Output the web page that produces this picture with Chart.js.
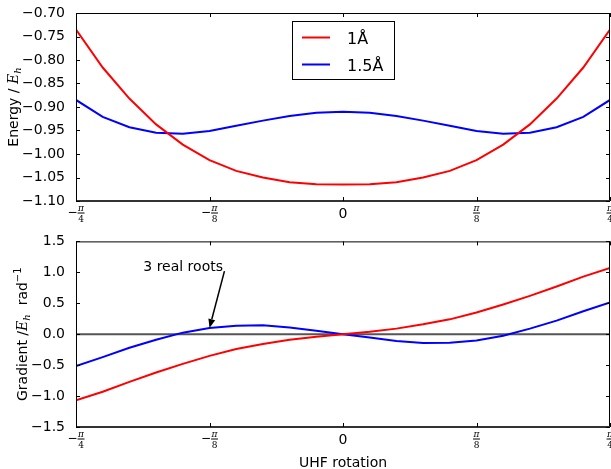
<!DOCTYPE html>
<html>
<head>
<meta charset="utf-8">
<script src="https://cdn.jsdelivr.net/npm/chart.js@4.4.1/dist/chart.umd.min.js"></script>
<style>
  html, body { margin: 0; padding: 0; background: #fff; }
  #wrap { position: relative; width: 611px; height: 469px; }
  canvas { position: absolute; left: 0; }
</style>
</head>
<body>
<div id="wrap">
  <canvas id="energy" width="611" height="230" style="top:0"></canvas>
  <canvas id="gradient" width="611" height="239" style="top:230px"></canvas>
</div>
<script>
// UHF rotation angle, in units of pi
const rotation = [-0.25, -0.225, -0.2, -0.175, -0.15, -0.125, -0.1, -0.075, -0.05, -0.025, 0,
  0.025, 0.05, 0.075, 0.1, 0.125, 0.15, 0.175, 0.2, 0.225, 0.25];
const seriesNames = ['1Å', '1.5Å'];
const seriesColors = ['#ff0000', '#0000ff'];

const energy1 = [-0.735, -0.816, -0.882, -0.937, -0.980, -1.013, -1.036, -1.050, -1.060, -1.0645, -1.065,
  -1.0645, -1.060, -1.050, -1.036, -1.013, -0.980, -0.937, -0.882, -0.816, -0.735];
const energy15 = [-0.885, -0.921, -0.943, -0.955, -0.957, -0.951, -0.940, -0.929, -0.919, -0.912, -0.910,
  -0.912, -0.919, -0.929, -0.940, -0.951, -0.957, -0.955, -0.943, -0.921, -0.885];

const grad1 = [-1.07, -0.93, -0.77, -0.62, -0.48, -0.35, -0.24, -0.16, -0.09, -0.04, 0,
  0.04, 0.09, 0.16, 0.24, 0.35, 0.48, 0.62, 0.77, 0.93, 1.07];
const grad15 = [-0.515, -0.37, -0.22, -0.09, 0.025, 0.10, 0.138, 0.143, 0.11, 0.055, 0,
  -0.055, -0.11, -0.143, -0.138, -0.10, -0.025, 0.09, 0.22, 0.37, 0.515];

const xTicks = [-0.25, -0.125, 0, 0.125, 0.25];
const xTickLabels = ['−π/4', '−π/8', '0', 'π/8', 'π/4'];
const energyTicks = [-1.10, -1.05, -1.00, -0.95, -0.90, -0.85, -0.80, -0.75, -0.70];
const gradTicks = [-1.5, -1.0, -0.5, 0.0, 0.5, 1.0, 1.5];

// annotation on the gradient plot
const noteText = '3 real roots';
const noteTextAt = [-0.187, 1.02];
const noteTail = [-0.111, 1.02];
const noteTip = [-0.125, 0.10];

const SANS = '"DejaVu Sans", sans-serif';
const SERIF = '"DejaVu Serif", serif';

function points(ys) {
  return rotation.map((x, i) => ({ x: x, y: ys[i] }));
}

function richWidth(ctx, parts) {
  let w = 0;
  parts.forEach(p => { ctx.font = p.font; w += ctx.measureText(p.t).width; });
  return w;
}

// vertical axis title made of several font runs
function drawVerticalTitle(ctx, parts, cx, cy) {
  ctx.save();
  ctx.translate(cx, cy);
  ctx.rotate(-Math.PI / 2);
  ctx.fillStyle = '#000';
  ctx.textAlign = 'left';
  ctx.textBaseline = 'alphabetic';
  let x = -richWidth(ctx, parts) / 2;
  parts.forEach(p => {
    ctx.font = p.font;
    ctx.fillText(p.t, x, 5 + (p.dy || 0));
    x += ctx.measureText(p.t).width;
  });
  ctx.restore();
}

function drawTickLabel(ctx, label, x, y) {
  ctx.fillStyle = '#000';
  if (label.indexOf('/') < 0) {
    ctx.font = '14px ' + SANS;
    ctx.textAlign = 'center';
    ctx.textBaseline = 'middle';
    ctx.fillText(label, x, y + 1);
    return;
  }
  const neg = label.charAt(0) === '−';
  const parts = label.replace('−', '').split('/');
  ctx.font = 'italic 9px ' + SERIF;
  const nw = ctx.measureText(parts[0]).width;
  ctx.font = '9px ' + SERIF;
  const dw = ctx.measureText(parts[1]).width;
  const fw = Math.max(nw, dw) + 1;
  ctx.font = '12px ' + SANS;
  const mw = neg ? ctx.measureText('−').width : 0;
  const x0 = x - (mw + fw) / 2;
  if (neg) {
    ctx.textAlign = 'left';
    ctx.textBaseline = 'middle';
    ctx.fillText('−', x0, y);
  }
  const fx = x0 + mw + fw / 2;
  ctx.textAlign = 'center';
  ctx.font = 'italic 9px ' + SERIF;
  ctx.textBaseline = 'alphabetic';
  ctx.fillText(parts[0], fx, y - 2.5);
  ctx.font = '9px ' + SERIF;
  ctx.textBaseline = 'top';
  ctx.fillText(parts[1], fx, y + 2);
  ctx.fillRect(fx - fw / 2, y - 0.5, fw, 1);
}

const framePlugin = {
  id: 'mplFrame',
  afterDraw(chart, args, opts) {
    const ctx = chart.ctx;
    const a = chart.chartArea;
    const xs = chart.scales.x, ys = chart.scales.y;
    ctx.save();
    // spines
    ctx.strokeStyle = '#000';
    ctx.lineWidth = 1;
    ctx.beginPath();
    ctx.moveTo(a.left + 0.5, a.bottom);
    ctx.lineTo(a.left + 0.5, a.top + 0.5);
    ctx.lineTo(a.right - 0.5, a.top + 0.5);
    ctx.lineTo(a.right - 0.5, a.bottom);
    ctx.stroke();
    ctx.strokeStyle = '#333';
    ctx.lineWidth = 2;
    ctx.beginPath();
    ctx.moveTo(a.left, a.bottom);
    ctx.lineTo(a.right, a.bottom);
    ctx.stroke();
    // inward ticks
    ctx.strokeStyle = '#000';
    ctx.lineWidth = 1;
    ctx.beginPath();
    xTicks.forEach(v => {
      const px = Math.round(xs.getPixelForValue(v)) + 0.5;
      ctx.moveTo(px, a.bottom); ctx.lineTo(px, a.bottom - 4);
      ctx.moveTo(px, a.top); ctx.lineTo(px, a.top + 4);
    });
    opts.yTicks.forEach(v => {
      const py = Math.round(ys.getPixelForValue(v)) + 0.5;
      ctx.moveTo(a.left, py); ctx.lineTo(a.left + 4, py);
      ctx.moveTo(a.right, py); ctx.lineTo(a.right - 4, py);
    });
    ctx.stroke();
    // x tick labels
    xTicks.forEach((v, i) => drawTickLabel(ctx, xTickLabels[i], xs.getPixelForValue(v), a.bottom + 12));
    // y title
    drawVerticalTitle(ctx, opts.title, opts.titleX, (a.top + a.bottom) / 2);
    ctx.restore();
  }
};

const legendPlugin = {
  id: 'boxLegend',
  afterDraw(chart) {
    const ctx = chart.ctx;
    ctx.save();
    ctx.fillStyle = '#fff';
    ctx.fillRect(292.5, 21.5, 102, 58);
    ctx.strokeStyle = '#000';
    ctx.lineWidth = 1;
    ctx.strokeRect(292.5, 21.5, 102, 58);
    seriesNames.forEach((name, i) => {
      const y = 37.5 + i * 27;
      ctx.strokeStyle = seriesColors[i];
      ctx.lineWidth = 2;
      ctx.beginPath();
      ctx.moveTo(302, y);
      ctx.lineTo(330, y);
      ctx.stroke();
      ctx.fillStyle = '#000';
      ctx.font = '16px ' + SANS;
      ctx.textAlign = 'left';
      ctx.textBaseline = 'alphabetic';
      ctx.fillText(name, 347, y + 6);
    });
    ctx.restore();
  }
};

const zeroLinePlugin = {
  id: 'zeroLine',
  beforeDatasetsDraw(chart) {
    const ctx = chart.ctx;
    const a = chart.chartArea;
    const py = chart.scales.y.getPixelForValue(0);
    ctx.save();
    ctx.strokeStyle = '#555';
    ctx.lineWidth = 2;
    ctx.beginPath();
    ctx.moveTo(a.left, py);
    ctx.lineTo(a.right, py);
    ctx.stroke();
    ctx.restore();
  }
};

const notePlugin = {
  id: 'note',
  afterDraw(chart) {
    const ctx = chart.ctx;
    const xs = chart.scales.x, ys = chart.scales.y;
    const tx = xs.getPixelForValue(noteTextAt[0]), ty = ys.getPixelForValue(noteTextAt[1]);
    const x0 = xs.getPixelForValue(noteTail[0]), y0 = ys.getPixelForValue(noteTail[1]);
    const x1 = xs.getPixelForValue(noteTip[0]), y1 = ys.getPixelForValue(noteTip[1]);
    ctx.save();
    ctx.fillStyle = '#000';
    ctx.font = '14px ' + SANS;
    ctx.textAlign = 'left';
    ctx.textBaseline = 'alphabetic';
    ctx.fillText(noteText, tx, ty);
    const ang = Math.atan2(y1 - y0, x1 - x0);
    const hl = 9, hw = 3.5;
    const bx = x1 - hl * Math.cos(ang), by = y1 - hl * Math.sin(ang);
    ctx.strokeStyle = '#000';
    ctx.lineWidth = 1.5;
    ctx.beginPath();
    ctx.moveTo(x0, y0);
    ctx.lineTo(bx, by);
    ctx.stroke();
    ctx.beginPath();
    ctx.moveTo(x1, y1);
    ctx.lineTo(bx + hw * Math.sin(ang), by - hw * Math.cos(ang));
    ctx.lineTo(bx - hw * Math.sin(ang), by + hw * Math.cos(ang));
    ctx.closePath();
    ctx.fill();
    ctx.restore();
  }
};

function makeConfig(ys, yTicks, fmt, xHeight, padTop, title, titleX, plugins) {
  return {
    type: 'line',
    data: {
      datasets: ys.map((d, i) => ({
        label: seriesNames[i],
        data: points(d),
        borderColor: seriesColors[i],
        borderWidth: 2,
        pointRadius: 0,
        tension: 0,
        fill: false,
      })),
    },
    options: {
      responsive: false,
      animation: false,
      layout: { padding: { top: padTop, right: 1, left: 0, bottom: 0 } },
      plugins: {
        legend: { display: false },
        tooltip: { enabled: false },
        mplFrame: { yTicks: yTicks, title: title, titleX: titleX },
      },
      scales: {
        x: {
          type: 'linear',
          min: -0.25,
          max: 0.25,
          grid: { display: false },
          border: { display: false },
          ticks: { display: false },
          afterFit(s) { s.height = xHeight; },
        },
        y: {
          min: yTicks[0],
          max: yTicks[yTicks.length - 1],
          grid: { display: false },
          border: { display: false },
          afterBuildTicks(s) { s.ticks = yTicks.map(v => ({ value: v })); },
          ticks: {
            padding: 3,
            color: '#000',
            font: { family: 'DejaVu Sans', size: 14 },
            callback: fmt,
          },
          afterFit(s) { s.width = 76; },
        },
      },
    },
    plugins: plugins,
  };
}

const energyTitle = [
  { t: 'Energy / ', font: '14px ' + SANS },
  { t: 'E', font: 'italic 14px ' + SERIF },
  { t: 'h', font: 'italic 10px ' + SERIF, dy: 3 },
];
const gradTitle = [
  { t: 'Gradient /', font: '14px ' + SANS },
  { t: 'E', font: 'italic 14px ' + SERIF },
  { t: 'h', font: 'italic 10px ' + SERIF, dy: 3 },
  { t: '  rad', font: '14px ' + SANS },
  { t: '−1', font: '10px ' + SANS, dy: -6 },
];

new Chart(document.getElementById('energy'), makeConfig(
  [energy1, energy15], energyTicks,
  v => v.toFixed(2).replace('-', '−'),
  29, 13, energyTitle, 13, [framePlugin, legendPlugin]));

new Chart(document.getElementById('gradient'), makeConfig(
  [grad1, grad15], gradTicks,
  v => v.toFixed(1).replace('-', '−'),
  42, 10, gradTitle, 22, [zeroLinePlugin, framePlugin, notePlugin]));

// x axis title
const gctx = document.getElementById('gradient').getContext('2d');
gctx.fillStyle = '#000';
gctx.font = '14px ' + SANS;
gctx.textAlign = 'center';
gctx.textBaseline = 'middle';
gctx.fillText('UHF rotation', 343, 233);
</script>
</body>
</html>
